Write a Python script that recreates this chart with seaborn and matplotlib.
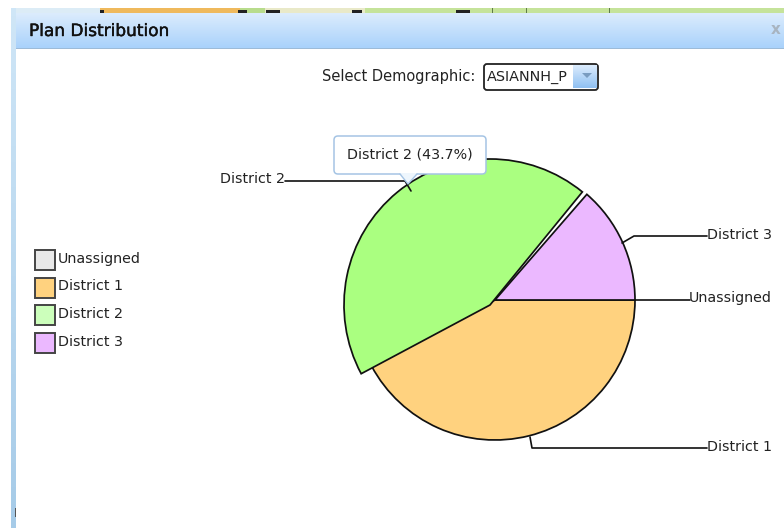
#!/usr/bin/env python3
import matplotlib as mpl
mpl.use('Agg')
import matplotlib.pyplot as plt
import matplotlib.patheffects as pe
from matplotlib.colors import LinearSegmentedColormap
from matplotlib.patches import Rectangle, FancyBboxPatch, Polygon
import numpy as np
import seaborn as sns

districts = ['Unassigned', 'District 1', 'District 2', 'District 3']
shares = [0.0, 42.2, 43.7, 14.1]
pie_colors = ['#e8e8e8', '#ffd27f', '#aaff80', '#ebb8ff']
legend_colors = ['#e8e8e8', '#ffd27f', '#ccffbb', '#ebb8ff']

sns.set_theme(style='white')
plt.rcParams['font.family'] = ['DejaVu Sans']
TEXT = '#222222'
FS = 10.3

fig = plt.figure(figsize=(7.84, 5.28), dpi=100)
ax = fig.add_axes([0, 0, 1, 1])

# pie, y axis is flipped so the slices run clockwise from east
wedges, _ = ax.pie(shares, colors=pie_colors, startangle=0, counterclock=True,
		center=(495, 300), radius=140, frame=True,
		wedgeprops={'edgecolor': '#111111', 'linewidth': 1.25, 'zorder': 3})
# hovered slice is drawn bigger and a bit off centre, leaves a gap to district 3
wedges[2].set_center((490, 305))
wedges[2].set_radius(146)
wedges[2].set_zorder(4)
wedges[3].set_theta1(311)

# window behind the chart
grad = np.linspace(0, 1, 64)[:, None]
head = LinearSegmentedColormap.from_list('head', ['#dcecfd', '#a9d2fb'])
ax.imshow(grad, extent=(16, 784, 48, 13), cmap=head, aspect='auto', zorder=1)
ax.add_patch(Rectangle((16, 47.5), 768, 1.5, fc='#9dbbd8', ec='none', zorder=1.1))
strip = LinearSegmentedColormap.from_list('strip', ['#cfe6f7', '#a6cbe8'])
ax.imshow(grad, extent=(11, 16, 528, 8), cmap=strip, aspect='auto', zorder=1)

# bit of the map that shows above the window
ax.add_patch(Rectangle((16, 8), 84, 5, fc='#dcecf6', ec='none', zorder=1))
ax.add_patch(Rectangle((100, 8), 140, 5, fc='#efb95c', ec='none', zorder=1))
ax.add_patch(Rectangle((240, 8), 25, 5, fc='#b8dc8c', ec='none', zorder=1))
ax.add_patch(Rectangle((265, 8), 100, 5, fc='#e9e9c8', ec='none', zorder=1))
ax.add_patch(Rectangle((365, 8), 419, 5, fc='#c5e39a', ec='none', zorder=1))
for x0, wid in [(100, 4), (238, 9), (266, 14), (352, 10), (456, 14)]:
	ax.add_patch(Rectangle((x0, 9.5), wid, 3.5, fc='#222222', ec='none', zorder=1.2))
for x0 in [492, 526, 609]:
	ax.add_patch(Rectangle((x0, 8), 1, 5, fc='#5f7a48', ec='none', zorder=1.2))
ax.add_patch(Rectangle((15, 508), 1, 9, fc='#555555', ec='none', zorder=1.2))

ax.text(29, 31, 'Plan Distribution', fontsize=12.2, color='#111111', va='center', zorder=5,
		path_effects=[pe.withStroke(linewidth=0.3, foreground='#111111')])
ax.text(776, 30, 'x', fontsize=11, fontweight='bold', color='#a8b4c0', ha='center', va='center', zorder=5)

# demographic selector
ax.text(322, 77, 'Select Demographic:', fontsize=10.5, color=TEXT, va='center', zorder=5)
ax.add_patch(FancyBboxPatch((486, 66), 110, 22, boxstyle='round,pad=2,rounding_size=3', fc='white',
		ec='#222222', lw=1.3, zorder=3))
btn = LinearSegmentedColormap.from_list('btn', ['#dcecfd', '#8fc0f2'])
ax.imshow(grad, extent=(573, 597, 88, 65), cmap=btn, aspect='auto', zorder=3.1)
ax.add_patch(Polygon([(582, 73), (592, 73), (587, 78)], fc='#7a9cc0', ec='none', zorder=3.2))
ax.text(487, 77, 'ASIANNH_P', fontsize=10.4, color=TEXT, va='center', zorder=5)

# legend on the left
for i, (name, col) in enumerate(zip(districts, legend_colors)):
	y = 250 + i * 27.5
	ax.add_patch(Rectangle((35.5, y), 20, 20, fc=col, ec='#444444', lw=1.4, zorder=3))
	ax.text(58, y + 9, name, fontsize=FS, color=TEXT, va='center', zorder=5)

# leader lines and their labels
leaders = [
	([635, 690], [300, 300]),
	([530, 532, 707], [437, 448, 448]),
	([285, 405, 411], [181, 181, 191]),
	([622, 634, 707], [243, 236, 236]),
]
for xs, ys in leaders:
	ax.plot(xs, ys, color='#111111', lw=1.2, zorder=4.5)
ax.text(772, 298, districts[0], fontsize=FS, color=TEXT, ha='right', va='center', zorder=5)
ax.text(772, 447, districts[1], fontsize=FS, color=TEXT, ha='right', va='center', zorder=5)
ax.text(285, 179, districts[2], fontsize=FS, color=TEXT, ha='right', va='center', zorder=5)
ax.text(772, 235, districts[3], fontsize=FS, color=TEXT, ha='right', va='center', zorder=5)

# tooltip
ax.add_patch(FancyBboxPatch((337, 139), 146, 32, boxstyle='round,pad=3,rounding_size=4', fc='white',
		ec='#a5c4e4', lw=1.1, zorder=6))
ax.add_patch(Polygon([(400, 173), (417, 173), (408, 184)], fc='#eef6fd', ec='none', zorder=6.1))
ax.plot([400, 408, 417], [174, 184, 174], color='#a5c4e4', lw=1, zorder=6.2)
ax.text(347, 154, '%s (%.1f%%)' % (districts[2], shares[2]), fontsize=FS, color=TEXT, va='center', zorder=7)

ax.set_xlim(0, 784)
ax.set_ylim(528, 0)
ax.set_aspect('equal')
ax.axis('off')

fig.savefig('out.png', dpi=100)
